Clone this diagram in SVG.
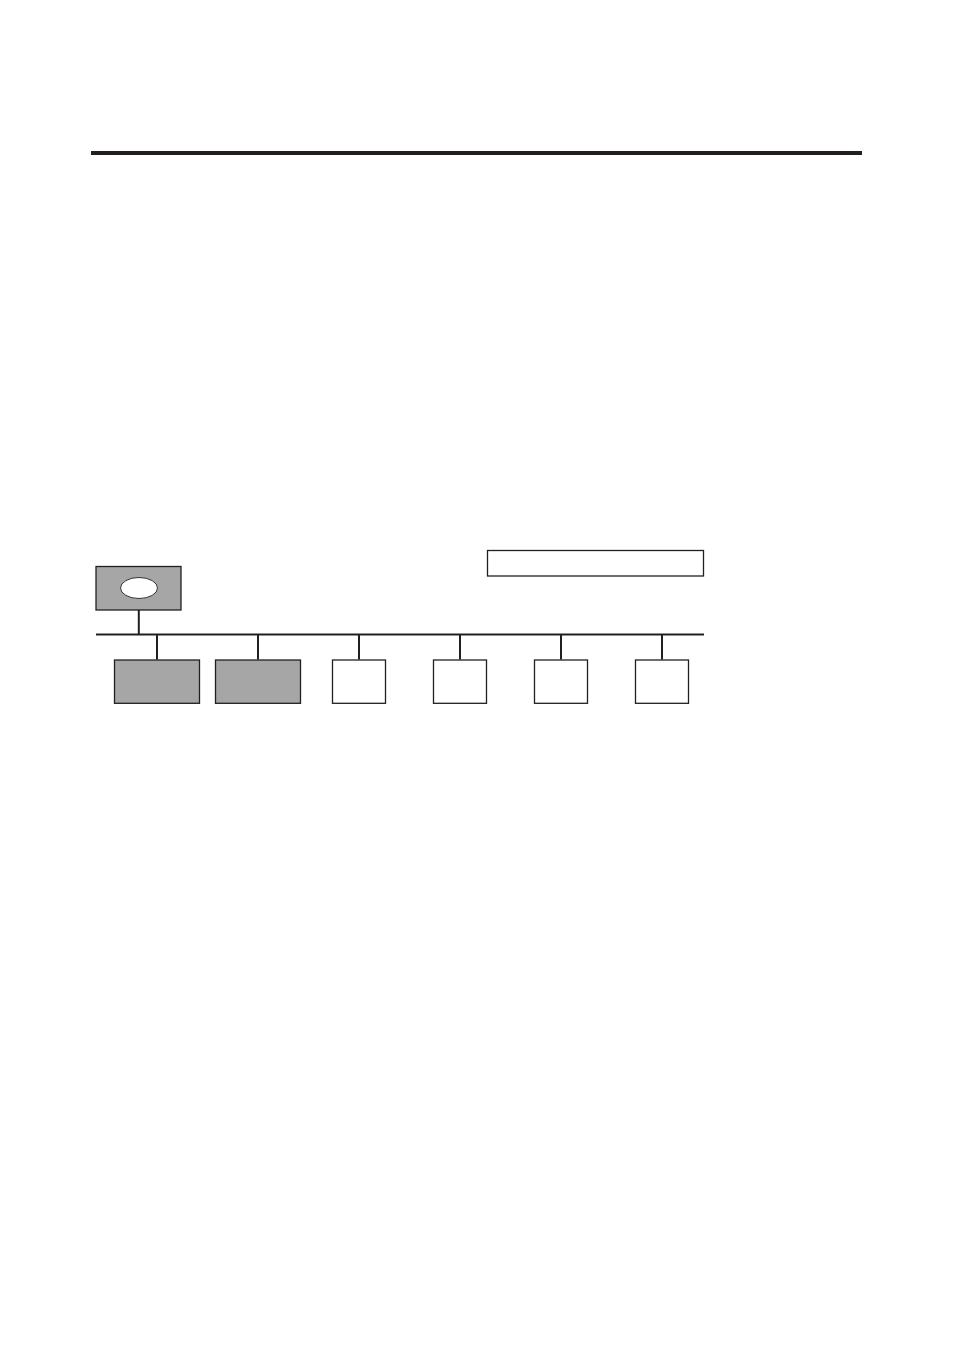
<svg xmlns="http://www.w3.org/2000/svg" width="954" height="1350" viewBox="0 0 954 1350">
<style>
.ln{stroke:#231f20;fill:none}
.box{stroke:#231f20;stroke-width:1.3}
.gray{fill:#a6a6a6}
.white{fill:#ffffff}
</style>
<rect width="954" height="1350" fill="#ffffff"/>
<rect x="91" y="151" width="771" height="4" fill="#231f20"/>
<g id="connectors">
<line class="ln" x1="96" y1="634.5" x2="704" y2="634.5" stroke-width="2.2"/>
<line class="ln" x1="138.8" y1="610" x2="138.8" y2="634" stroke-width="2"/>
<line class="ln" x1="157" y1="635" x2="157" y2="659.5" stroke-width="2"/>
<line class="ln" x1="258" y1="635" x2="258" y2="659.5" stroke-width="2"/>
<line class="ln" x1="359" y1="635" x2="359" y2="659.5" stroke-width="2"/>
<line class="ln" x1="460" y1="635" x2="460" y2="659.5" stroke-width="2"/>
<line class="ln" x1="561" y1="635" x2="561" y2="659.5" stroke-width="2"/>
<line class="ln" x1="662" y1="635" x2="662" y2="659.5" stroke-width="2"/>
</g>
<g id="host">
<rect class="box gray" x="96" y="566.5" width="85" height="43.5" stroke-width="1.8"/>
<ellipse cx="139" cy="588" rx="18.5" ry="10.5" fill="#ffffff" stroke="#231f20" stroke-width="0.9"/>
</g>
<g id="label-box">
<rect class="box white" x="487.5" y="550.5" width="216" height="25.5" stroke-width="1.1"/>
</g>
<g id="node1"><rect class="box gray" x="114.5" y="660" width="85" height="43.3"/></g>
<g id="node2"><rect class="box gray" x="215.5" y="660" width="85" height="43.3"/></g>
<g id="node3"><rect class="box white" x="332.5" y="660" width="53" height="43.3"/></g>
<g id="node4"><rect class="box white" x="433.5" y="660" width="53" height="43.3"/></g>
<g id="node5"><rect class="box white" x="534.5" y="660" width="53" height="43.3"/></g>
<g id="node6"><rect class="box white" x="635.5" y="660" width="53" height="43.3"/></g>
</svg>
